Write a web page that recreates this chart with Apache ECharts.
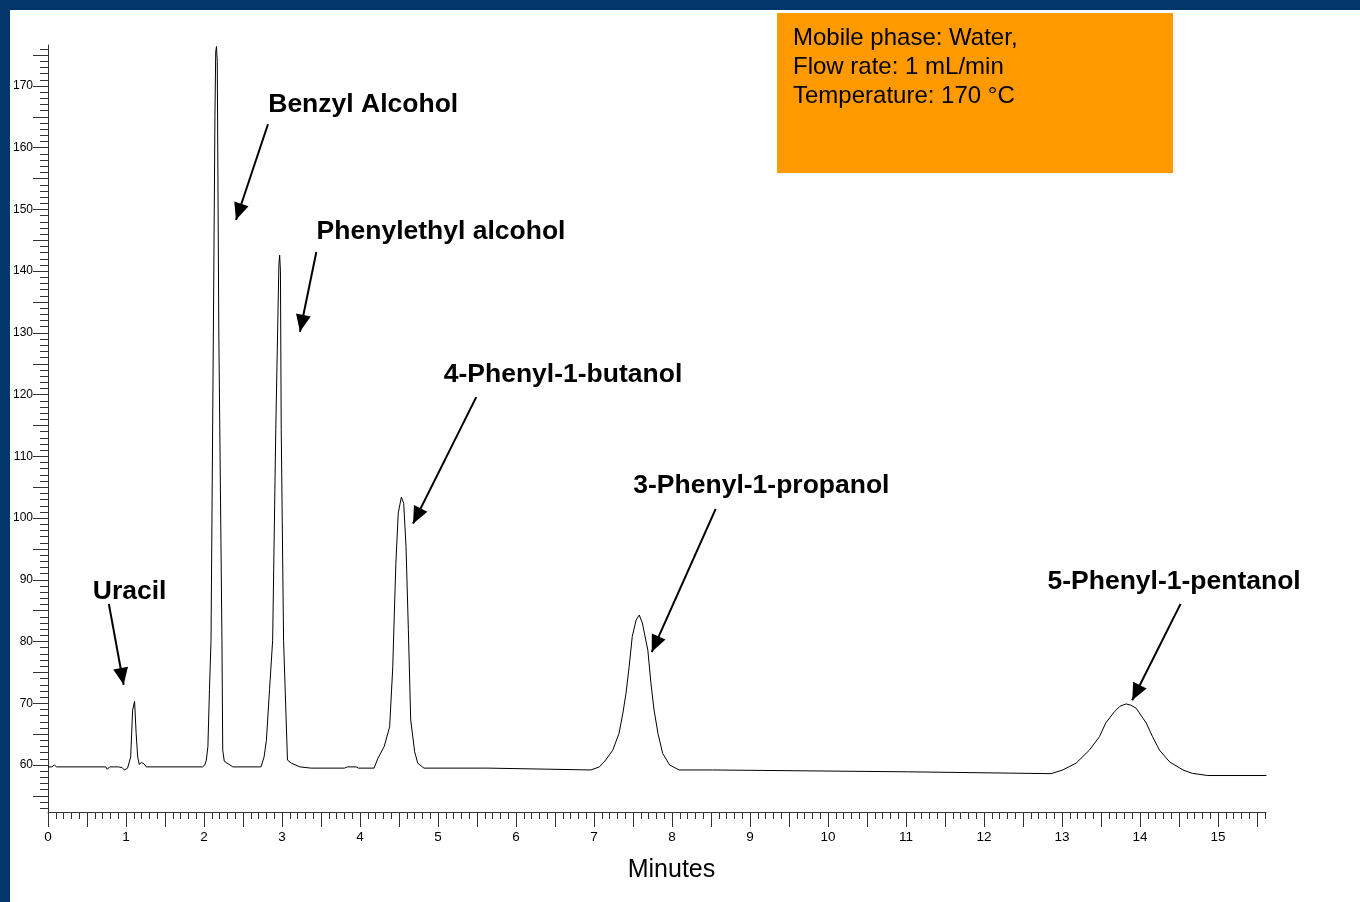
<!DOCTYPE html>
<html>
<head>
<meta charset="utf-8">
<script src="https://cdn.jsdelivr.net/npm/echarts@6/dist/echarts.min.js"></script>
<style>
  html, body { margin: 0; padding: 0; background: #ffffff; }
  #frameTop { position: absolute; left: 0; top: 0; width: 1360px; height: 10px; background: #03366A; }
  #frameLeft { position: absolute; left: 0; top: 0; width: 10px; height: 902px; background: #03366A; }
  #chart { position: absolute; left: 0; top: 0; width: 1360px; height: 902px; }
</style>
</head>
<body>
<div id="frameTop"></div>
<div id="frameLeft"></div>
<div id="chart"></div>
<script>
// ---- data ----
const minutes = [
  0.00, 0.05, 0.08, 0.11, 0.74, 0.76, 0.79, 0.85, 0.87, 0.90, 0.95, 0.98, 1.02, 1.04,
  1.06, 1.085, 1.11, 1.13, 1.15, 1.17, 1.20, 1.23, 1.26,
  1.98, 2.01, 2.03, 2.05, 2.07, 2.09, 2.12, 2.14, 2.15, 2.16, 2.17, 2.19, 2.23, 2.24, 2.26, 2.28, 2.37,
  2.73, 2.77, 2.80, 2.84, 2.88, 2.92, 2.96, 2.97, 2.98, 2.99, 3.02, 3.07, 3.12, 3.23, 3.37,
  3.80, 3.84, 3.95, 3.98,
  4.18, 4.23, 4.31, 4.38, 4.42, 4.44, 4.46, 4.49, 4.53, 4.56, 4.59, 4.62, 4.65, 4.70, 4.74, 4.82,
  5.64, 5.66,
  6.96, 7.07, 7.15, 7.24, 7.32, 7.37, 7.41, 7.45, 7.49, 7.54, 7.58, 7.62, 7.69, 7.73, 7.77, 7.82, 7.88, 7.97, 8.09,
  8.52, 8.54, 11.03, 11.05,
  12.86, 13.01, 13.18, 13.35, 13.48, 13.56, 13.67, 13.74, 13.82, 13.88, 13.95, 14.08, 14.16, 14.25, 14.38, 14.55, 14.67, 14.87,
  15.62
];
const signal = [
  59.7, 59.7, 60.0, 59.7, 59.7, 59.3, 59.7, 59.7, 60.0, 59.7, 59.6, 59.2, 59.5, 59.8,
  61.3, 68.9, 70.3, 65.1, 61.3, 60.1, 60.4, 60.2, 59.7,
  59.7, 60.0, 60.8, 63.0, 72.2, 80.2, 130.0, 165.0, 175.5, 176.4, 174.0, 130.0, 80.2, 62.4, 60.6, 60.3, 59.7,
  59.7, 61.3, 64.0, 72.2, 80.2, 114.3, 141.0, 142.6, 140.0, 114.3, 80.2, 60.8, 60.3, 59.7, 59.5,
  59.5, 59.7, 59.7, 59.5,
  59.5, 61.1, 63.0, 66.2, 75.9, 84.6, 92.7, 100.8, 103.4, 102.4, 95.4, 81.9, 67.3, 62.2, 60.3, 59.5,
  59.5, 59.2,
  59.2, 59.7, 60.8, 62.4, 65.1, 68.4, 71.6, 75.9, 80.8, 83.5, 84.3, 83.0, 78.6, 73.2, 68.9, 65.1, 61.9, 60.0, 59.2,
  59.2, 58.9, 58.9, 58.6,
  58.6, 59.2, 60.3, 62.4, 64.6, 66.8, 68.6, 69.5, 69.9, 69.7, 69.2, 66.8, 64.6, 62.4, 60.5, 59.2, 58.65, 58.3,
  58.3
];

// peak annotations: label anchor (left, middle) and arrow tail -> head, in data units
const peakNames  = ['Uracil', 'Benzyl Alcohol', 'Phenylethyl alcohol', '4-Phenyl-1-butanol', '3-Phenyl-1-propanol', '5-Phenyl-1-pentanol'];
const labelX     = [0.58, 2.83, 3.45, 5.08, 7.51, 12.82];
const labelY     = [87.95, 166.85, 146.35, 123.15, 105.15, 89.65];
const arrowFromX = [0.78, 2.82, 3.44, 5.49, 8.56, 14.52];
const arrowFromY = [86.1, 163.8, 143.1, 119.6, 101.5, 86.1];
const arrowToX   = [0.97, 2.41, 3.23, 4.68, 7.74, 13.90];
const arrowToY   = [73.0, 148.3, 130.2, 99.1, 78.3, 70.5];

// axis ticks
const xLabelTicks = [0, 1, 2, 3, 4, 5, 6, 7, 8, 9, 10, 11, 12, 13, 14, 15];
const xMajorTicks = [];
for (let i = 0; i <= 31; i++) xMajorTicks.push(i / 2);
const xMinorTicks = [];
for (let i = 0; i <= 156; i++) xMinorTicks.push(i / 10);
const yLabelTicks = [60, 70, 80, 90, 100, 110, 120, 130, 140, 150, 160, 170];
const yMajorTicks = [55, 60, 65, 70, 75, 80, 85, 90, 95, 100, 105, 110, 115, 120, 125, 130, 135, 140, 145, 150, 155, 160, 165, 170, 175];
const yMinorTicks = [];
for (let v = 53; v <= 176; v++) yMinorTicks.push(v);

const X_MIN = 0, X_MAX = 15.615, Y_MIN = 52.39, Y_MAX = 176.64;
const FONT = '"Liberation Sans", Arial, Helvetica, sans-serif';
const AXIS_COLOR = '#333333';

const chart = echarts.init(document.getElementById('chart'), null, { renderer: 'canvas' });

const lineData = minutes.map((m, i) => [m, signal[i]]);

const option = {
  animation: false,
  backgroundColor: 'transparent',
  grid: { left: 48, top: 45, width: 1218, height: 767, containLabel: false },
  xAxis: [
    {
      type: 'value', min: X_MIN, max: X_MAX, position: 'bottom',
      axisLine: { show: true, lineStyle: { color: AXIS_COLOR, width: 1 } },
      axisTick: { show: true, customValues: xMajorTicks, length: 15, lineStyle: { color: AXIS_COLOR, width: 1 } },
      axisLabel: { show: true, customValues: xLabelTicks, margin: 18, color: '#000', fontSize: 13.5, fontFamily: FONT },
      splitLine: { show: false },
      name: 'Minutes', nameLocation: 'middle', nameGap: 46,
      nameTextStyle: { color: '#000', fontSize: 25, fontFamily: FONT, padding: [0, 0, 0, 29] }
    },
    {
      type: 'value', min: X_MIN, max: X_MAX, position: 'bottom',
      axisLine: { show: false },
      axisTick: { show: true, customValues: xMinorTicks, length: 7, lineStyle: { color: AXIS_COLOR, width: 1 } },
      axisLabel: { show: false },
      splitLine: { show: false }
    }
  ],
  yAxis: [
    {
      type: 'value', min: Y_MIN, max: Y_MAX, position: 'left',
      axisLine: { show: true, lineStyle: { color: AXIS_COLOR, width: 1 } },
      axisTick: { show: true, customValues: yMajorTicks, length: 15, lineStyle: { color: AXIS_COLOR, width: 1 } },
      axisLabel: { show: true, customValues: yLabelTicks, margin: 15, color: '#000', fontSize: 12, fontFamily: FONT },
      splitLine: { show: false }
    },
    {
      type: 'value', min: Y_MIN, max: Y_MAX, position: 'left',
      axisLine: { show: false },
      axisTick: { show: true, customValues: yMinorTicks, length: 8, lineStyle: { color: AXIS_COLOR, width: 1 } },
      axisLabel: { show: false },
      splitLine: { show: false }
    }
  ],
  series: [
    {
      type: 'line',
      xAxisIndex: 0, yAxisIndex: 0,
      data: lineData,
      showSymbol: false,
      symbol: 'none',
      smooth: false,
      clip: false,
      lineStyle: { color: '#000000', width: 1 },
      z: 3,
      markLine: {
        silent: true,
        animation: false,
        symbol: ['none', 'triangle'],
        symbolSize: [15, 17],
        symbolOffset: [[0, 0], [0, 8.5]],
        lineStyle: { color: '#000000', width: 2, type: 'solid' },
        label: { show: false },
        emphasis: { disabled: true },
        data: peakNames.map((n, i) => [
          { coord: [arrowFromX[i], arrowFromY[i]] },
          { coord: [arrowToX[i], arrowToY[i]] }
        ])
      },
      markPoint: {
        silent: true,
        animation: false,
        symbol: 'rect',
        symbolSize: 1,
        itemStyle: { color: 'rgba(0,0,0,0)' },
        label: {
          show: true,
          position: [0, 0],
          align: 'left',
          verticalAlign: 'middle',
          color: '#000',
          fontSize: 26.5,
          fontWeight: 'bold',
          fontFamily: FONT,
          formatter: (p) => p.name
        },
        data: peakNames.map((n, i) => ({ name: n, coord: [labelX[i], labelY[i]], value: 0 }))
      }
    }
  ],
  graphic: [
    {
      type: 'group',
      left: 777, top: 13,
      children: [
        { type: 'rect', shape: { x: 0, y: 0, width: 396, height: 160 }, style: { fill: '#FF9900' } },
        {
          type: 'text', x: 16, y: 11,
          style: {
            text: 'Mobile phase: Water,\nFlow rate: 1 mL/min\nTemperature: 170 °C',
            fill: '#000', fontSize: 24, fontFamily: FONT, lineHeight: 29,
            align: 'left', verticalAlign: 'top'
          }
        }
      ]
    }
  ]
};

chart.setOption(option);
</script>
</body>
</html>
